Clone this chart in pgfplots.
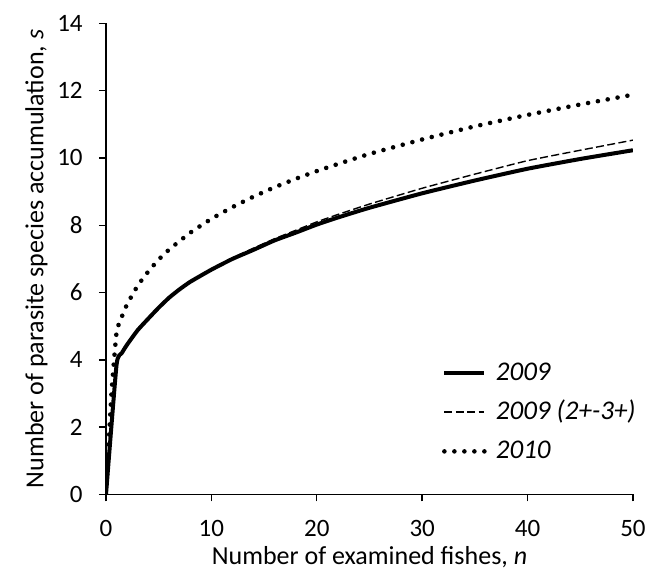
\documentclass[border=0pt]{standalone}
\usepackage{fontspec}
\setmainfont{Carlito}
\usepackage{pgfplots}
\pgfplotsset{compat=1.18}
\begin{document}
\begin{tikzpicture}
\path[use as bounding box] (-53pt,-39.3pt) rectangle (271.5pt,247.2pt);
\begin{axis}[
  scale only axis, width=263.5pt, height=235.5pt,
  xmin=0, xmax=50, ymin=0, ymax=14,
  axis lines*=left,
  axis line style={line width=0.7pt, black},
  tick align=outside,
  major tick length=3.5pt,
  tick style={line width=0.7pt, black},
  xtick={0,10,...,50}, ytick={0,2,...,14},
  /pgf/number format/assume math mode=true,
  tick label style={font=\fontsize{12.5}{15}\selectfont},
  xticklabel style={anchor=center, yshift=-13.5pt},
  yticklabel style={anchor=east, inner sep=0pt, xshift=-8pt},
  xlabel={Number of examined fishes, \textit{n}},
  ylabel={Number of parasite species accumulation, \textit{s}},
  every axis x label/.style={at={(axis description cs:0.5,0)}, anchor=center, yshift=-31.5pt, font=\fontsize{13}{16}\selectfont},
  every axis y label/.style={at={(axis description cs:0,0.5)}, anchor=center, rotate=90, yshift=34.75pt, font=\fontsize{13}{16}\selectfont},
  legend style={draw=none, fill=none, inner sep=0pt, at={(axis description cs:0.637,0.2915)}, anchor=north west,
    font=\itshape\fontsize{13.5}{16}\selectfont, row sep=4.1pt, column sep=3.6pt,
    nodes={inner sep=1pt, text height=10.5pt, text depth=3pt}},
  legend cell align=left,
  legend image code/.code={\draw[#1] (0pt,0pt) -- (20pt,0pt);},
]
\addplot[black, line width=2pt, smooth, tension=0.3] coordinates {
(0,0) (1,3.85) (1.5,4.2) (2,4.45) (3,4.88) (4,5.22) (5,5.55) (6,5.85) (7,6.1) (8,6.32) (10,6.68) (12,7.0) (14,7.27) (16,7.55) (18,7.78) (20,8.02) (22,8.23) (25,8.52) (30,8.95) (35,9.33) (40,9.68) (45,9.97) (50,10.23)
};
\addlegendentry{2009}
\addplot[black, line width=0.7pt, dash pattern=on 4pt off 1.7pt, smooth, tension=0.3] coordinates {
(0,0) (1,3.85) (1.5,4.2) (2,4.45) (3,4.88) (4,5.22) (5,5.55) (6,5.85) (7,6.1) (8,6.33) (10,6.7) (12,7.03) (14,7.32) (16,7.6) (18,7.85) (20,8.1) (22,8.32) (25,8.63) (30,9.1) (35,9.52) (40,9.92) (45,10.23) (50,10.53)
};
\addlegendentry{2009 (2+-3+)}
\addplot[black, line width=2.3pt, line cap=round, dash pattern=on 0pt off 5pt, smooth, tension=0.3] coordinates {
(0,0) (0.5,2.9) (1,4.81) (1.5,5.28) (2,5.65) (3,6.2) (4,6.62) (5,6.98) (6,7.28) (8,7.78) (10,8.19) (12,8.54) (14,8.85) (16,9.13) (18,9.38) (20,9.61) (22,9.82) (25,10.12) (30,10.55) (35,10.94) (40,11.28) (45,11.59) (50,11.88)
};
\addlegendentry{2010}
\end{axis}
\end{tikzpicture}
\end{document}
